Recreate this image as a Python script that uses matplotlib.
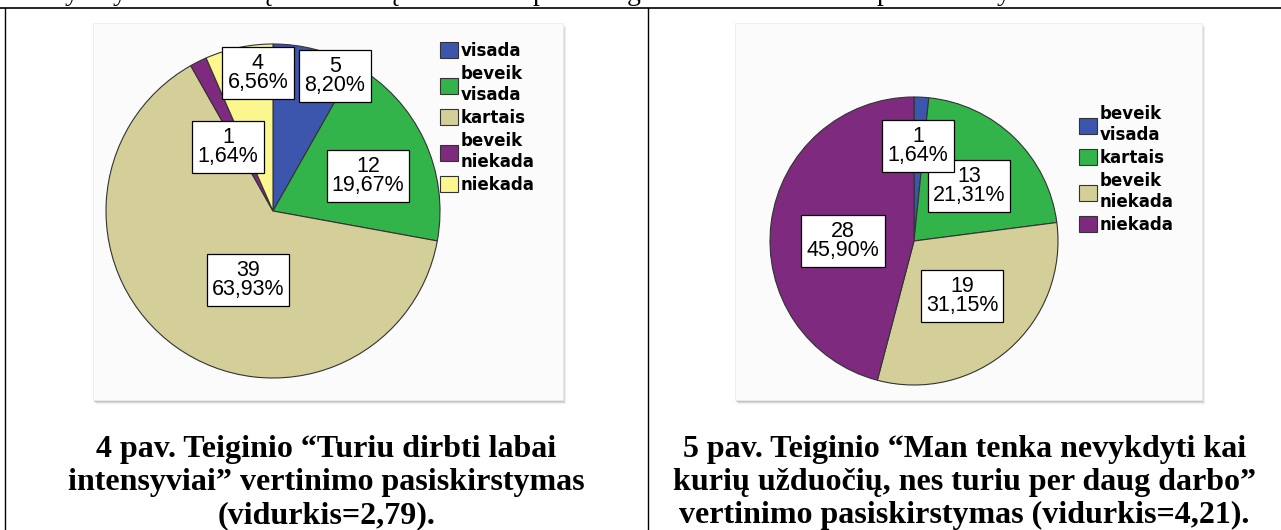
import numpy as np
import matplotlib.pyplot as plt
from matplotlib.patches import Rectangle

# figure size in pixels (dpi 100)
W, H = 1281, 530

# Data for the two pie charts
left_names = ['visada', 'beveik\nvisada', 'kartais', 'beveik\nniekada', 'niekada']
left_counts = [5, 12, 39, 1, 4]
right_names = ['beveik\nvisada', 'kartais', 'beveik\nniekada', 'niekada']
right_counts = [1, 13, 19, 28]

cat_colors = {
    'visada': '#3d56ad',
    'beveik\nvisada': '#33b44a',
    'kartais': '#d4cf98',
    'beveik\nniekada': '#7e2a7e',
    'niekada': '#fbf68d',
}
# the second chart has its categories shifted by one step
right_colors = ['#3d56ad', '#33b44a', '#d4cf98', '#7e2a7e']

left_caption = ['4 pav. Teiginio \u201cTuriu dirbti labai',
                'intensyviai\u201d vertinimo pasiskirstymas',
                '(vidurkis=2,79).']
right_caption = ['5 pav. Teiginio \u201cMan tenka nevykdyti kai',
                 'kuri\u0173 u\u017eduo\u010di\u0173, nes turiu per daug darbo\u201d',
                 'vertinimo pasiskirstymas (vidurkis=4,21).']

# label box centres (pixels) as placed in the original SPSS output
left_label_pos = [(335, 76), (368, 176), (248, 280), (228, 147), (258, 73)]
right_label_pos = [(918, 146), (969, 186), (962, 296), (843, 241)]

fig = plt.figure(figsize=(W / 100, H / 100), dpi=100)
fig.patch.set_facecolor('white')

page = fig.add_axes([0, 0, 1, 1])
page.set_xlim(0, W)
page.set_ylim(H, 0)
page.axis('off')

# cut-off line of body text above the table (only descenders visible)
for ch, x in [('y', 72), ('y', 120), ('\u0173', 265), ('\u0173', 392),
              ('p', 540), ('g', 634), ('p', 884), ('y', 1004)]:
    page.text(x, 0.5, ch, family='Liberation Serif', fontsize=20,
              ha='center', va='baseline')

# table borders
page.plot([0, W], [7.5, 7.5], color='black', lw=1.2)
page.plot([5, 5], [7.5, H], color='black', lw=1.0)
page.plot([648, 648], [7.5, H], color='black', lw=1.0)


def image_box(x0, y0, x1, y1):
    for off, a in [(4, 0.15), (3, 0.25), (2, 0.35)]:
        page.add_patch(Rectangle((x0 + off - 1, y0 + off), x1 - x0, y1 - y0,
                                 fc='#9a9a9a', ec='none', alpha=a))
    page.add_patch(Rectangle((x0, y0), x1 - x0, y1 - y0,
                             fc='#fbfbfb', ec='#ececec', lw=0.6))


image_box(93, 23, 563, 400)
image_box(735, 23, 1202, 400)


def draw_pie(clip, center, radius, counts, colors, names, label_pos, label_z, legend_xy):
    x0, y0, x1, y1 = clip
    ax = fig.add_axes([x0 / W, 1 - y1 / H, (x1 - x0) / W, (y1 - y0) / H])
    wedges, _ = ax.pie(counts, colors=colors, startangle=90, counterclock=False,
                       center=(center[0], H - center[1]), radius=radius,
                       wedgeprops=dict(edgecolor='#333333', linewidth=0.8))
    ax.set_xlim(x0, x1)
    ax.set_ylim(H - y1, H - y0)
    ax.set_aspect('auto')
    ax.axis('off')

    total = sum(counts)
    for n, (lx, ly), z in zip(counts, label_pos, label_z):
        txt = f"{n}\n{100 * n / total:.2f}%".replace('.', ',')
        ax.text(lx, H - ly, txt, ha='center', va='center', family='Liberation Sans',
                fontsize=15.5, linespacing=0.92, zorder=z,
                bbox=dict(boxstyle='square,pad=0.24', fc='white', ec='black', lw=0.9))

    leg = ax.legend(wedges, names, loc='upper left',
                    bbox_to_anchor=(legend_xy[0] / W, 1 - legend_xy[1] / H),
                    bbox_transform=fig.transFigure, frameon=False, borderpad=0,
                    borderaxespad=0, handlelength=1.05, handleheight=1.1,
                    handletextpad=0.2, labelspacing=0.3,
                    prop=dict(family='DejaVu Sans', weight='bold', size=12))
    for t in leg.get_texts():
        t.set_linespacing(1.2)
    return ax


draw_pie((112, 23, 563, 400), (273, 211), 167, left_counts,
         [cat_colors[n] for n in left_names], left_names,
         left_label_pos, [5, 5, 5, 5, 5], (440, 42))
draw_pie((735, 23, 1202, 380), (914, 241), 144, right_counts,
         right_colors, right_names,
         right_label_pos, [6, 5, 5, 5], (1079, 105))

# captions below the charts
for lines, cx in [(left_caption, 326.5), (right_caption, 964.5)]:
    for line, yb in zip(lines, [457, 490, 523]):
        page.text(cx, yb, line, family='Liberation Serif', weight='bold',
                  fontsize=23, ha='center', va='baseline')

fig.savefig('out.png', dpi=100, facecolor='white')
